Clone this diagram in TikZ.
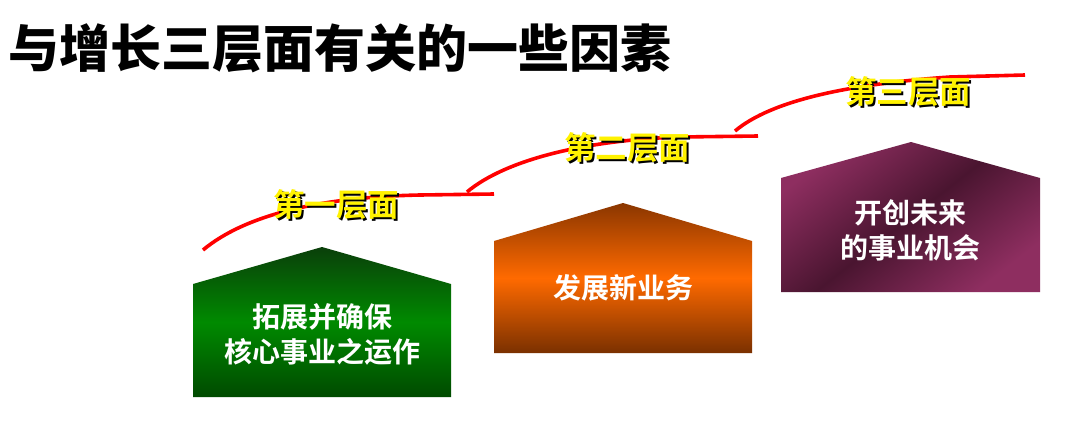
\documentclass[tikz,border=0pt]{standalone}
\usepackage{fontspec}
\newfontfamily\cjk{Noto Sans CJK SC}[BoldFont={Noto Sans CJK SC Bold}]
\newfontfamily\cjkblack{Noto Sans CJK SC Black}
\definecolor{redline}{HTML}{FF0000}
\definecolor{gD}{HTML}{0A3F0A}
\definecolor{gL}{HTML}{008A00}
\definecolor{gB}{HTML}{004A00}
\definecolor{oD}{HTML}{8A3600}
\definecolor{oL}{HTML}{FF6A00}
\definecolor{oB}{HTML}{7A3000}
\definecolor{pL}{HTML}{8E2E60}
\definecolor{pD}{HTML}{4A1530}
\tikzset{
  curve/.style={draw=redline, line width=3.6pt},
  levellabel/.style={font=\cjk\bfseries\fontsize{31.5}{35}\selectfont, text=yellow, inner sep=0pt},
  levelshadow/.style={font=\cjk\bfseries\fontsize{31.5}{35}\selectfont, text=black, inner sep=0pt},
  boxtext/.style={font=\cjk\bfseries\fontsize{28}{35}\selectfont, text=white, align=center, inner sep=0pt},
}
\begin{document}
\begin{tikzpicture}[x=1pt,y=-1pt]
\useasboundingbox (0,0) rectangle (1080,426);
\fill[white] (0,0) rectangle (1080,426);

% title
\node[anchor=west, inner sep=0pt, font=\cjkblack\fontsize{51}{56}\selectfont] (title) at (8,48) {与增长三层面有关的一些因素};

% red curves
\draw[curve] (203,250) .. controls (245,215) and (320,197) .. (420,195) -- (494,194);
\draw[curve] (467,192) .. controls (505,160) and (585,140) .. (680,137) -- (758,136);
\draw[curve] (735,131) .. controls (772,100) and (850,84) .. (950,77) -- (1025,75);

% level labels
\node[levelshadow] (s1) at (338,207) {第一层面};
\node[levellabel] (l1) at (336,205) {第一层面};
\node[levelshadow] (s2) at (629,150) {第二层面};
\node[levellabel] (l2) at (627,148) {第二层面};
\node[levelshadow] (s3) at (910,94) {第三层面};
\node[levellabel] (l3) at (908,92) {第三层面};

% houses
\shade[top color=gD, bottom color=gB, middle color=gL]
  (193,284) -- (322,247) -- (451,284) -- (451,397) -- (193,397) -- cycle;
\shade[top color=oD, bottom color=oB, middle color=oL]
  (494,241) -- (623,203) -- (752,241) -- (752,353) -- (494,353) -- cycle;
\shade[left color=pL, right color=pL, middle color=pD, shading angle=38]
  (781,178) -- (911,142) -- (1040,178) -- (1040,292) -- (781,292) -- cycle;

% house texts
\node[boxtext] (t1) at (322,334) {拓展并确保\\核心事业之运作};
\node[boxtext] (t2) at (623,288) {发展新业务};
\node[boxtext] (t3) at (910,230) {开创未来\\的事业机会};
\end{tikzpicture}
\end{document}
